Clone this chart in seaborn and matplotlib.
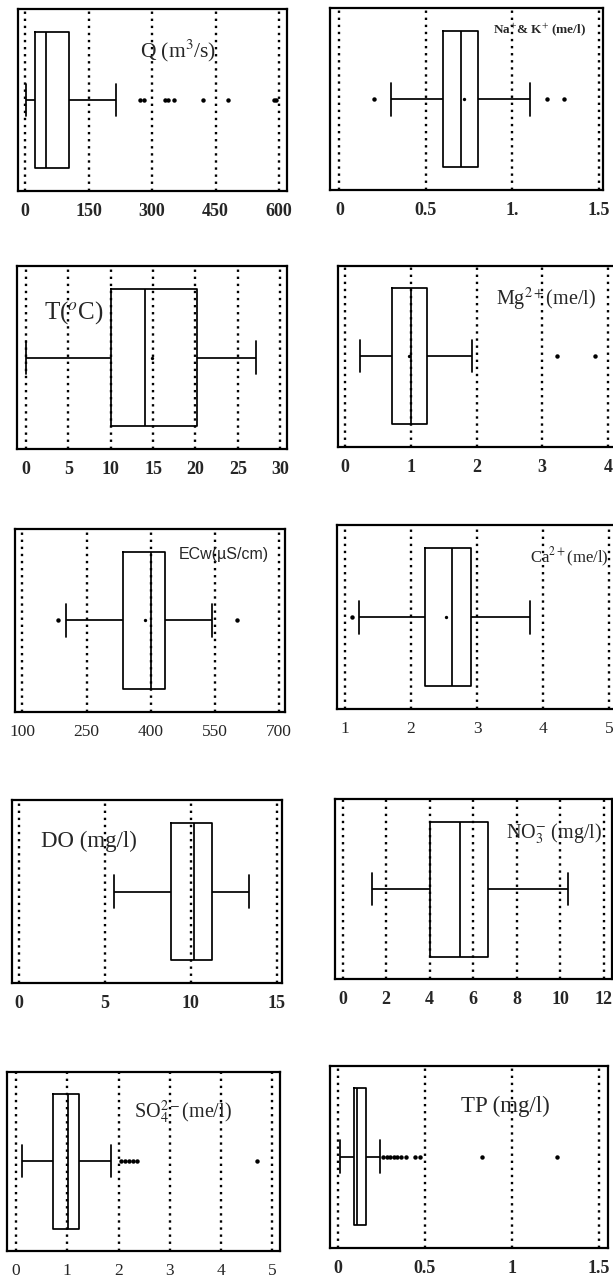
import numpy as np
import matplotlib
matplotlib.use("Agg")
import matplotlib.pyplot as plt
import seaborn as sns

# ---------------- data ----------------
panel_labels = [
    "Q (m$^3$/s)",
    "Na$^{+}$& K$^{+}$ (me/l)",
    "T($^{o}$C)",
    "Mg$^{2+}$(me/l)",
    "ECw(\u00b5S/cm)",
    "Ca$^{2+}$(me/l)",
    "DO (mg/l)",
    "NO$_3^{-}$ (mg/l)",
    "SO$_4^{2-}$(me/l)",
    "TP (mg/l)",
]
whisker_low = [2, 0.30, 0, 0.22, 202, 1.21, 5.55, 1.36, 0.11, 0.01]
quartile1 = [24, 0.60, 10, 0.72, 335, 2.21, 8.84, 4.0, 0.73, 0.092]
median = [49, 0.70, 14, 1.0, 400, 2.62, 10.2, 5.4, 1.02, 0.11]
quartile3 = [105, 0.80, 20.2, 1.24, 433, 2.91, 11.23, 6.69, 1.235, 0.159]
whisker_high = [215, 1.10, 27.2, 1.93, 544, 3.80, 13.4, 10.36, 1.85, 0.243]
outliers = [
    [272, 280, 330, 337, 352, 421, 478, 588, 592],
    [0.20, 1.20, 1.30],
    [],
    [3.22, 3.80],
    [184, 603],
    [1.11],
    [],
    [],
    [2.04, 2.12, 2.20, 2.28, 2.36, 4.71],
    [0.26, 0.28, 0.30, 0.32, 0.34, 0.36, 0.39, 0.44, 0.47, 0.828, 1.26],
]
means = [None, 0.72, 14.9, 0.97, 386, 2.53, None, None, None, None]
tick_values = [
    [0, 150, 300, 450, 600],
    [0, 0.5, 1, 1.5],
    [0, 5, 10, 15, 20, 25, 30],
    [0, 1, 2, 3, 4],
    [100, 250, 400, 550, 700],
    [1, 2, 3, 4, 5],
    [0, 5, 10, 15],
    [0, 2, 4, 6, 8, 10, 12],
    [0, 1, 2, 3, 4, 5],
    [0, 0.5, 1, 1.5],
]
tick_text = [
    ["0", "150", "300", "450", "600"],
    ["0", "0.5", "1.", "1.5"],
    ["0", "5", "10", "15", "20", "25", "30"],
    ["0", "1", "2", "3", "4"],
    ["100", "250", "400", "550", "700"],
    ["1", "2", "3", "4", "5"],
    ["0", "5", "10", "15"],
    ["0", "2", "4", "6", "8", "10", "12"],
    ["0", "1", "2", "3", "4", "5"],
    ["0", "0.5", "1", "1.5"],
]

# ---------------- layout (pixels, top-left origin) ----------------
W, H = 613, 1279
rects = [  # left, top, right, bottom
    (18.3, 9, 287.3, 191), (330, 8.3, 602.7, 190),
    (17.3, 266, 287.3, 449.3), (338, 265.7, 617, 446.7),
    (15, 529, 285, 711.7), (337, 525, 616, 709.3),
    (11.7, 800, 282.4, 983.4), (334.7, 799, 612.3, 979.3),
    (7.3, 1071.7, 280, 1251), (330.3, 1065.7, 608, 1247.7),
]
xlims = [
    (-15.7, 619), (-0.054, 1.521),
    (-1.03, 30.85), (-0.11, 4.14),
    (82.5, 715), (0.88, 5.1),
    (-0.41, 15.34), (-0.37, 12.40),
    (-0.17, 5.15), (-0.044, 1.552),
]
label_pos = [
    (0.452, 0.736), (0.599, 0.862),
    (0.099, 0.711), (0.566, 0.783),
    (0.607, 0.834), (0.690, 0.793),
    (0.108, 0.746), (0.618, 0.782),
    (0.466, 0.746), (0.470, 0.747),
]
label_size = [15.5, 9.5, 18, 14.5, 11.5, 12, 16.5, 14.5, 14.5, 16.5]
label_weight = ["normal", "bold", "normal", "normal", "normal",
                "normal", "normal", "normal", "normal", "normal"]
label_family = ["serif"] * 10
label_family[4] = "sans"
tick_weight = ["bold", "bold", "bold", "bold", "normal",
               "normal", "bold", "bold", "normal", "bold"]

sns.set_style("white")
plt.rcParams["font.family"] = ["Liberation Serif", "DejaVu Sans"]
plt.rcParams["mathtext.fontset"] = "stix"
plt.rcParams["axes.edgecolor"] = "black"

fig = plt.figure(figsize=(W / 100, H / 100), dpi=100)

for i in range(10):
    l, t, r, b = rects[i]
    ax = fig.add_axes([l / W, 1 - b / H, (r - l) / W, (b - t) / H])
    vals = [whisker_low[i], quartile1[i], median[i], quartile3[i], whisker_high[i]]
    sns.boxplot(x=vals, ax=ax, whis=(0, 100), width=0.75, fill=False,
                color="black", linewidth=1.25, capwidths=0.18,
                showfliers=False)
    if outliers[i]:
        sns.stripplot(x=outliers[i], ax=ax, jitter=False, color="black",
                      size=3.2, linewidth=0)
    if means[i] is not None:
        sns.stripplot(x=[means[i]], ax=ax, jitter=False, color="black",
                      size=2.4, linewidth=0)
    ax.set_xlim(*xlims[i])
    ax.set_ylim(0.5, -0.5)
    ax.set_yticks([])
    ax.set_xticks(tick_values[i])
    ax.set_xticklabels(tick_text[i])
    ax.set_xlabel("")
    ax.set_ylabel("")
    ax.grid(axis="x", color="black", linestyle=(0, (1.0, 2.0)), linewidth=1.7)
    ax.set_axisbelow(True)
    ax.tick_params(axis="x", length=0, pad=8.5)
    for lab in ax.get_xticklabels():
        lab.set_fontsize(13 if tick_weight[i] == "bold" else 12.5)
        lab.set_fontweight(tick_weight[i])
        lab.set_fontfamily(["Liberation Serif", "DejaVu Sans"])
    for sp in ax.spines.values():
        sp.set_visible(True)
        sp.set_color("black")
        sp.set_linewidth(1.6)
    fam = ["Liberation Serif", "DejaVu Sans"] if label_family[i] == "serif" \
        else ["Liberation Sans", "DejaVu Sans"]
    ax.text(label_pos[i][0], label_pos[i][1], panel_labels[i],
            transform=ax.transAxes, ha="left", va="baseline",
            fontsize=label_size[i], fontweight=label_weight[i], family=fam)

fig.savefig("out.png", dpi=100)
